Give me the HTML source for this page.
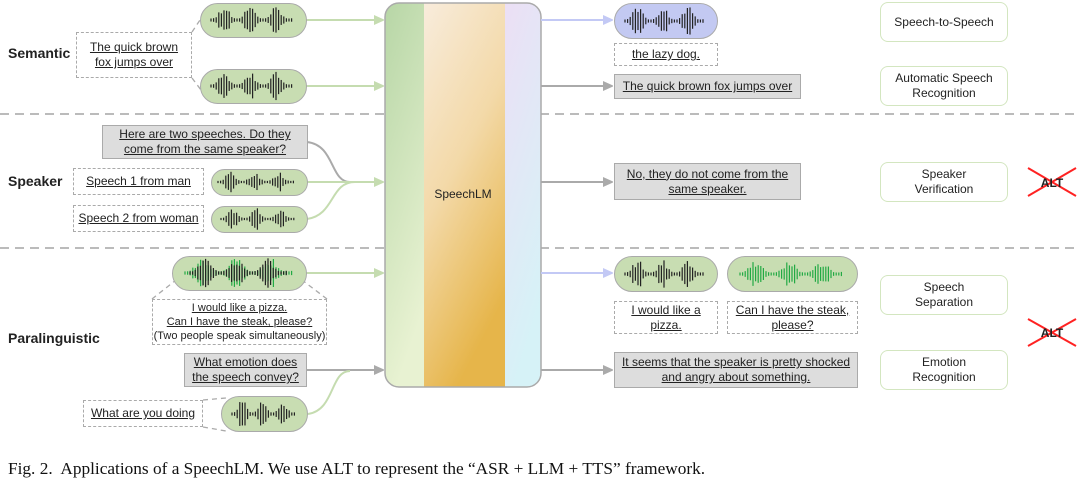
<!DOCTYPE html>
<html><head><meta charset="utf-8"><style>
body{margin:0;width:1080px;height:484px;background:#fff;position:relative;overflow:hidden;font-family:"Liberation Sans",sans-serif;color:#222}
.a{position:absolute;box-sizing:border-box;display:flex;align-items:center;justify-content:center;text-align:center;font-size:12px;line-height:15px;white-space:nowrap}
.u{text-decoration:underline}
.dash{border:1.3px dashed #aaa;background:#fff}
.gray{border:1.3px solid #aaa;background:#ddd}
.pill{border:1.5px solid #aaa;background:#c8ddb2;border-radius:18px}
.blue{background:#c3c9f2}
.lab{border:1.5px solid #d3e6c0;border-radius:8px;background:#fff;font-size:12px}
.cat{position:absolute;font-weight:bold;font-size:14px}
svg{position:absolute;left:0;top:0}
</style></head><body>
<svg width="1080" height="484">
<defs>
<marker id="mg" markerWidth="10" markerHeight="10" refX="9" refY="5" orient="auto" markerUnits="userSpaceOnUse"><path d="M0,0 L11,5 L0,10 z" fill="#c5dcb0"/></marker>
<marker id="my" markerWidth="10" markerHeight="10" refX="9" refY="5" orient="auto" markerUnits="userSpaceOnUse"><path d="M0,0 L11,5 L0,10 z" fill="#aaa"/></marker>
<marker id="mb" markerWidth="10" markerHeight="10" refX="9" refY="5" orient="auto" markerUnits="userSpaceOnUse"><path d="M0,0 L11,5 L0,10 z" fill="#c3c9f5"/></marker>
<linearGradient id="g1" x1="0" y1="0" x2="0.3" y2="1"><stop offset="0" stop-color="#b7d6a6"/><stop offset="1" stop-color="#e8f2d2"/></linearGradient>
<linearGradient id="g2" x1="0" y1="0" x2="0.4" y2="1"><stop offset="0" stop-color="#f8ecdc"/><stop offset="0.5" stop-color="#f3d9a8"/><stop offset="1" stop-color="#e6b54a"/></linearGradient>
<linearGradient id="g3" x1="0" y1="0" x2="0.3" y2="1"><stop offset="0" stop-color="#ecdff5"/><stop offset="1" stop-color="#d6f2f7"/></linearGradient>
<clipPath id="cb"><rect x="385" y="3" width="156" height="384" rx="14"/></clipPath>
</defs>
<g stroke="#bbb" stroke-width="2" stroke-dasharray="9,6"><line x1="0" y1="114" x2="1080" y2="114"/><line x1="0" y1="248" x2="1080" y2="248"/></g>
<g clip-path="url(#cb)"><rect x="385" y="3" width="40" height="384" fill="url(#g1)"/><rect x="424" y="3" width="82" height="384" fill="url(#g2)"/><rect x="505" y="3" width="36" height="384" fill="url(#g3)"/></g>
<rect x="385" y="3" width="156" height="384" rx="14" fill="none" stroke="#aaa" stroke-width="1.5"/>
<text x="463" y="198" font-size="12" text-anchor="middle" fill="#222" font-family="Liberation Sans,sans-serif">SpeechLM</text>
<g fill="none" stroke-width="2">
<line x1="306" y1="20" x2="383" y2="20" stroke="#c5dcb0" marker-end="url(#mg)"/>
<line x1="306" y1="86" x2="383" y2="86" stroke="#c5dcb0" marker-end="url(#mg)"/>
<path d="M307,142 C335,145 330,182 350,182" stroke="#aaa"/>
<line x1="307" y1="182" x2="383" y2="182" stroke="#c5dcb0" marker-end="url(#mg)"/>
<path d="M307,219 C335,215 330,182 355,182" stroke="#c5dcb0"/>
<line x1="306" y1="273" x2="383" y2="273" stroke="#c5dcb0" marker-end="url(#mg)"/>
<line x1="306" y1="370" x2="383" y2="370" stroke="#aaa" marker-end="url(#my)"/>
<path d="M308,414 C335,410 330,371 350,371" stroke="#c5dcb0"/>
<line x1="541" y1="20" x2="612" y2="20" stroke="#c3c9f5" marker-end="url(#mb)"/>
<line x1="541" y1="86" x2="612" y2="86" stroke="#aaa" marker-end="url(#my)"/>
<line x1="541" y1="182" x2="612" y2="182" stroke="#aaa" marker-end="url(#my)"/>
<line x1="541" y1="273" x2="612" y2="273" stroke="#c3c9f5" marker-end="url(#mb)"/>
<line x1="541" y1="370" x2="612" y2="370" stroke="#aaa" marker-end="url(#my)"/>
</g>
<g stroke="#aaa" stroke-width="1.3" stroke-dasharray="5,4" fill="none">
<line x1="192" y1="32" x2="204" y2="14"/><line x1="192" y1="78" x2="204" y2="94"/>
<line x1="152" y1="299" x2="176" y2="280"/><line x1="327" y1="299" x2="302" y2="280"/>
<line x1="203" y1="400" x2="226" y2="398"/><line x1="203" y1="427" x2="226" y2="431"/>
</g>
<g stroke="#f22" stroke-width="2"><line x1="1028" y1="168" x2="1076" y2="196"/><line x1="1028" y1="196" x2="1076" y2="168"/>
<line x1="1028" y1="319" x2="1076" y2="346"/><line x1="1028" y1="346" x2="1076" y2="319"/></g>
<text x="1052" y="187" font-size="12" font-weight="bold" text-anchor="middle" fill="#222" font-family="Liberation Sans,sans-serif">ALT</text>
<text x="1052" y="337" font-size="12" font-weight="bold" text-anchor="middle" fill="#222" font-family="Liberation Sans,sans-serif">ALT</text>
</svg>
<div class="cat" style="left:8px;top:45px">Semantic</div>
<div class="cat" style="left:8px;top:173px">Speaker</div>
<div class="cat" style="left:8px;top:330px">Paralinguistic</div>

<div class="a pill" style="left:200px;top:3px;width:107px;height:35px"></div>
<div class="a pill" style="left:200px;top:69px;width:107px;height:35px"></div>
<div class="a dash" style="left:76px;top:32px;width:116px;height:46px"><span class="u">The quick brown<br>fox jumps over</span></div>

<div class="a gray" style="left:102px;top:125px;width:206px;height:34px"><span class="u">Here are two speeches. Do they<br>come from the same speaker?</span></div>
<div class="a dash" style="left:73px;top:168px;width:131px;height:27px"><span class="u">Speech 1 from man</span></div>
<div class="a dash" style="left:73px;top:205px;width:131px;height:27px"><span class="u">Speech 2 from woman</span></div>
<div class="a pill" style="left:211px;top:169px;width:97px;height:27px"></div>
<div class="a pill" style="left:211px;top:206px;width:97px;height:27px"></div>

<div class="a pill" style="left:172px;top:256px;width:135px;height:35px"></div>
<div class="a dash" style="left:152px;top:299px;width:175px;height:46px;line-height:14px;font-size:11px"><span><span class="u">I would like a pizza.<br>Can I have the steak, please?</span><br>(Two people speak simultaneously)</span></div>
<div class="a gray" style="left:184px;top:353px;width:123px;height:34px"><span class="u">What emotion does<br>the speech convey?</span></div>
<div class="a dash" style="left:83px;top:400px;width:120px;height:27px"><span class="u">What are you doing</span></div>
<div class="a pill" style="left:221px;top:396px;width:87px;height:36px"></div>

<div class="a pill blue" style="left:614px;top:3px;width:104px;height:36px"></div>
<div class="a dash" style="left:614px;top:43px;width:104px;height:23px"><span class="u">the lazy dog.</span></div>
<div class="a gray" style="left:614px;top:74px;width:187px;height:25px"><span class="u">The quick brown fox jumps over</span></div>
<div class="a gray" style="left:614px;top:163px;width:187px;height:37px"><span class="u">No, they do not come from the<br>same speaker.</span></div>
<div class="a pill" style="left:614px;top:256px;width:104px;height:36px"></div>
<div class="a pill" style="left:727px;top:256px;width:131px;height:36px"></div>
<div class="a dash" style="left:614px;top:301px;width:104px;height:33px"><span class="u">I would like a<br>pizza.</span></div>
<div class="a dash" style="left:727px;top:301px;width:131px;height:33px"><span class="u">Can I have the steak,<br>please?</span></div>
<div class="a gray" style="left:614px;top:352px;width:244px;height:36px"><span class="u">It seems that the speaker is pretty shocked<br>and angry about something.</span></div>

<div class="a lab" style="left:880px;top:2px;width:128px;height:40px">Speech-to-Speech</div>
<div class="a lab" style="left:880px;top:66px;width:128px;height:40px">Automatic Speech<br>Recognition</div>
<div class="a lab" style="left:880px;top:162px;width:128px;height:40px">Speaker<br>Verification</div>
<div class="a lab" style="left:880px;top:275px;width:128px;height:40px">Speech<br>Separation</div>
<div class="a lab" style="left:880px;top:350px;width:128px;height:40px">Emotion<br>Recognition</div>

<div style="position:absolute;left:8px;top:459px;font-family:'Liberation Serif',serif;font-size:17.3px;color:#111;white-space:nowrap">Fig. 2.&nbsp; Applications of a SpeechLM. We use ALT to represent the “ASR + LLM + TTS” framework.</div>

<svg width="1080" height="484" style="pointer-events:none"><g id="w"></g></svg>
<script>
var g=document.getElementById('w'),ns='http://www.w3.org/2000/svg';
function wave(x0,x1,cy,h,col,seed){var n=Math.floor((x1-x0)/2.6),s=seed*1000;
for(var i=0;i<n;i++){var t=i/n;s=(s*9301+49297)%233280;var r=s/233280;
var env=Math.pow(Math.abs(Math.sin(t*Math.PI*3.2)),3);var hh=h*(0.1+0.9*env*(0.4+0.6*r));
var l=document.createElementNS(ns,'line');var x=x0+i*2.6;l.setAttribute('x1',x);l.setAttribute('x2',x);
l.setAttribute('y1',cy-hh/2);l.setAttribute('y2',cy+hh/2);l.setAttribute('stroke',col);l.setAttribute('stroke-width','1.2');g.appendChild(l);}}
wave(211,296,20,30,'#222',1);wave(211,296,86,30,'#222',2);
wave(218,298,182,22,'#222',3);wave(221,298,219,22,'#222',4);
wave(185,296,273,32,'#22aa44',5);wave(190,290,273,32,'#222',6);
wave(232,298,414,30,'#222',7);
wave(625,708,21,30,'#222',8);wave(625,708,274,30,'#222',9);wave(740,845,274,30,'#22aa44',10);
</script>
</body></html>
